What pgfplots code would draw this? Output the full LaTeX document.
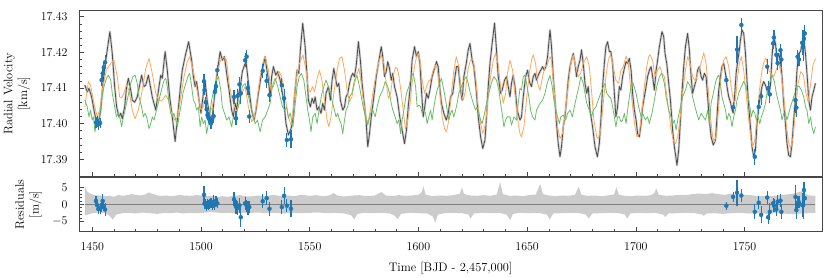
\documentclass[border=0pt]{standalone}
\usepackage{pgfplots}
\usepackage{pgfplotstable}
\pgfplotsset{compat=1.18}
\usepgfplotslibrary{fillbetween}
\definecolor{tabblue}{HTML}{1F77B4}
\definecolor{morange}{RGB}{255,168,92}
\definecolor{mgreen}{RGB}{105,190,105}
\definecolor{mdark}{RGB}{75,75,75}
\definecolor{mband}{RGB}{212,212,212}
\definecolor{mres}{RGB}{204,204,204}
\definecolor{mzero}{RGB}{128,128,128}
\definecolor{mframe}{RGB}{70,70,70}

\pgfplotstableread{
x y
1446.6 17.4108
1447.7 17.4089
1448.5 17.4099
1449.7 17.4075
1450.8 17.4038
1451.9 17.4005
1452.8 17.4000
1453.9 17.4038
1454.9 17.4113
1455.8 17.4160
1456.9 17.4207
1458.1 17.4258
1459.2 17.4197
1460.3 17.4104
1461.2 17.4047
1462.3 17.4019
1463.1 17.4029
1463.8 17.4014
1464.9 17.4047
1465.8 17.4104
1466.6 17.4127
1467.7 17.4094
1468.4 17.4066
1469.5 17.4060
1470.7 17.4075
1472.7 17.4136
1473.8 17.4104
1474.6 17.4108
1475.8 17.4136
1477.6 17.4075
1479.2 17.4038
1480.7 17.4104
1481.5 17.4136
1482.2 17.4127
1483.5 17.4202
1484.5 17.4150
1485.6 17.4075
1486.8 17.4019
1488.1 17.3950
1489.1 17.4010
1490.4 17.4094
1491.4 17.4150
1492.7 17.4188
1494.3 17.4230
1495.7 17.4178
1496.5 17.4132
1497.3 17.4104
1498.0 17.4118
1499.1 17.4066
1500.0 17.4029
1501.1 17.4085
1501.9 17.4118
1502.9 17.4061
1504.2 17.4019
1504.9 17.4005
1506.2 17.4075
1507.2 17.4132
1508.8 17.4202
1509.8 17.4178
1510.8 17.4188
1511.8 17.4141
1512.9 17.4094
1514.1 17.4038
1514.9 17.4019
1515.7 17.4057
1516.4 17.4038
1517.2 17.4080
1518.3 17.4113
1519.0 17.4146
1520.0 17.4164
1520.7 17.4174
1521.5 17.4132
1522.3 17.4085
1523.3 17.4038
1524.4 17.4010
1525.3 17.4038
1526.4 17.4085
1527.6 17.4132
1528.7 17.4164
1529.5 17.4188
1530.2 17.4155
1531.0 17.4122
1531.8 17.4075
1532.5 17.4132
1533.3 17.4160
1534.4 17.4136
1535.3 17.4146
1536.4 17.4122
1537.1 17.4099
1538.2 17.4057
1539.1 17.4000
1540.2 17.3968
1541.4 17.3985
1542.2 17.4010
1543.0 17.4075
1544.2 17.4150
1545.0 17.4141
1545.7 17.4207
1546.8 17.4282
1547.9 17.4216
1548.8 17.4132
1549.4 17.4066
1550.3 17.4047
1551.1 17.4071
1551.9 17.4057
1552.5 17.4075
1553.4 17.4038
1554.2 17.4047
1555.2 17.4029
1556.0 17.4057
1556.8 17.4038
1557.5 17.4085
1558.6 17.4104
1559.5 17.4066
1560.3 17.4122
1561.1 17.4155
1561.7 17.4132
1562.6 17.4104
1563.4 17.4113
1564.1 17.4066
1565.2 17.4038
1566.0 17.4047
1566.7 17.4075
1567.5 17.4085
1568.3 17.4113
1569.1 17.4132
1569.8 17.4141
1570.6 17.4132
1571.4 17.4164
1572.4 17.4230
1573.3 17.4178
1574.1 17.4113
1574.9 17.4066
1575.9 17.4010
1576.7 17.3935
1577.5 17.3972
1578.3 17.4019
1579.5 17.4075
1580.6 17.4132
1581.6 17.4169
1582.9 17.4216
1583.6 17.4188
1584.4 17.4132
1585.2 17.4146
1585.9 17.4174
1586.7 17.4155
1587.5 17.4122
1588.2 17.4141
1589.0 17.4104
1590.2 17.4075
1591.4 17.4019
1592.5 17.3982
1593.6 17.3944
1594.5 17.3982
1595.3 17.4047
1596.4 17.4113
1597.1 17.4178
1598.2 17.4216
1599.1 17.4188
1599.9 17.4202
1600.7 17.4169
1601.4 17.4094
1602.2 17.4019
1602.9 17.4047
1603.7 17.4085
1604.5 17.4071
1605.3 17.4094
1606.3 17.4132
1607.4 17.4155
1608.3 17.4174
1609.1 17.4160
1609.9 17.4094
1610.6 17.4057
1611.7 17.4029
1612.8 17.4010
1613.7 17.4029
1614.8 17.4075
1615.8 17.4085
1616.6 17.4122
1617.5 17.4160
1618.3 17.4160
1619.4 17.4094
1620.1 17.4066
1620.9 17.4132
1622.0 17.4169
1622.9 17.4207
1623.7 17.4225
1624.7 17.4178
1625.5 17.4160
1626.6 17.4094
1627.5 17.4019
1628.6 17.3963
1629.6 17.3930
1630.6 17.3954
1631.3 17.4019
1632.1 17.4104
1632.9 17.4169
1633.9 17.4225
1635.0 17.4282
1635.9 17.4207
1636.7 17.4132
1637.8 17.4085
1638.5 17.4094
1639.6 17.4122
1640.5 17.4132
1641.3 17.4104
1642.1 17.4075
1642.8 17.4113
1643.6 17.4136
1644.4 17.4104
1645.4 17.4038
1646.7 17.4010
1647.4 17.4019
1648.2 17.4075
1649.3 17.4132
1650.2 17.4150
1651.0 17.4118
1652.0 17.4104
1652.8 17.4132
1653.6 17.4141
1654.3 17.4122
1655.1 17.4136
1655.9 17.4146
1657.1 17.4160
1657.9 17.4150
1658.6 17.4160
1659.4 17.4188
1660.5 17.4263
1661.2 17.4216
1662.0 17.4132
1662.8 17.4066
1663.5 17.4000
1664.3 17.3944
1665.1 17.3907
1665.8 17.3935
1666.6 17.3991
1667.4 17.4019
1668.1 17.4066
1668.9 17.4122
1669.7 17.4160
1670.4 17.4178
1671.2 17.4197
1672.0 17.4169
1672.7 17.4132
1673.5 17.4160
1674.3 17.4178
1675.0 17.4207
1675.8 17.4169
1676.6 17.4113
1677.4 17.4085
1678.1 17.4104
1678.9 17.4038
1680.1 17.3991
1681.2 17.3935
1682.3 17.3907
1683.2 17.3944
1684.0 17.4019
1684.7 17.4104
1685.5 17.4169
1686.2 17.4216
1687.0 17.4230
1687.8 17.4202
1688.5 17.4202
1689.3 17.4169
1690.1 17.4085
1690.8 17.4019
1691.6 17.4047
1692.4 17.4104
1693.1 17.4094
1693.9 17.4132
1694.7 17.4155
1695.5 17.4174
1696.2 17.4169
1697.0 17.4183
1697.8 17.4150
1698.5 17.4085
1699.3 17.4038
1700.1 17.4010
1700.8 17.3972
1701.6 17.3963
1702.4 17.4000
1703.1 17.4047
1703.9 17.4075
1704.7 17.4104
1705.4 17.4132
1706.2 17.4150
1707.0 17.4160
1707.7 17.4132
1708.5 17.4094
1709.3 17.4150
1710.0 17.4178
1710.8 17.4216
1711.6 17.4244
1712.0 17.4258
1712.8 17.4244
1713.4 17.4197
1714.2 17.4169
1715.1 17.4113
1715.9 17.4066
1716.9 17.3982
1717.7 17.3935
1718.5 17.3902
1718.9 17.3883
1719.7 17.3926
1720.5 17.4010
1721.2 17.4085
1722.0 17.4160
1722.8 17.4216
1723.8 17.4253
1724.6 17.4207
1725.4 17.4132
1726.1 17.4085
1726.9 17.4104
1727.7 17.4122
1728.4 17.4150
1729.2 17.4160
1730.0 17.4132
1730.7 17.4122
1731.5 17.4141
1732.3 17.4132
1733.0 17.4075
1733.8 17.4010
1734.6 17.3963
1735.6 17.3940
1736.6 17.3954
1737.3 17.4019
1738.1 17.4094
1738.9 17.4132
1739.6 17.4160
1740.4 17.4169
1741.2 17.4141
1741.9 17.4104
1742.7 17.4075
1743.5 17.4060
1744.2 17.4040
1744.7 17.4030
1745.5 17.4085
1746.1 17.4141
1746.8 17.4174
1747.6 17.4207
1748.1 17.4235
1748.8 17.4263
1749.6 17.4253
1750.4 17.4197
1751.1 17.4122
1751.9 17.4047
1752.7 17.3991
1753.4 17.3935
1754.2 17.3907
1755.0 17.3926
1755.7 17.4000
1756.5 17.4047
1757.3 17.4080
1758.0 17.4104
1758.8 17.4118
1759.6 17.4108
1760.3 17.4094
1761.1 17.4080
1761.9 17.4108
1762.6 17.4188
1763.4 17.4244
1764.2 17.4225
1764.9 17.4178
1765.7 17.4197
1766.5 17.4174
1767.2 17.4132
1768.0 17.4057
1768.8 17.4000
1769.5 17.3944
1770.3 17.3911
1771.1 17.3907
1771.8 17.3944
1772.6 17.4010
1773.4 17.4075
1774.1 17.4150
1774.9 17.4197
1775.7 17.4202
1776.5 17.4225
1777.2 17.4235
1778.0 17.4197
1778.8 17.4132
1779.5 17.4066
1780.3 17.4038
1781.0 17.4075
1781.8 17.4094
1782.6 17.4113
}\blackdata

\pgfplotstableread{
x y
1446.6 17.4047
1448.2 17.4118
1449.2 17.4108
1450.8 17.4057
1452.3 17.4019
1453.4 17.4038
1454.9 17.4104
1456.5 17.4150
1458.5 17.4169
1460.0 17.4178
1461.5 17.4132
1462.6 17.4075
1463.5 17.4073
1464.6 17.4085
1465.7 17.4108
1466.9 17.4094
1468.4 17.4038
1469.7 17.4014
1471.2 17.4038
1473.0 17.4094
1474.6 17.4155
1476.1 17.4183
1477.6 17.4141
1479.2 17.4085
1480.7 17.4064
1482.2 17.4066
1483.8 17.4080
1485.0 17.4066
1486.5 17.4029
1487.9 17.4010
1489.3 17.4019
1490.7 17.4075
1492.2 17.4132
1493.7 17.4174
1494.8 17.4188
1495.8 17.4165
1496.5 17.4146
1497.6 17.4113
1498.8 17.4075
1500.0 17.4038
1501.1 17.4047
1501.9 17.4071
1503.1 17.4038
1504.2 17.4033
1505.2 17.4047
1506.5 17.4094
1507.5 17.4141
1508.8 17.4174
1510.3 17.4188
1511.8 17.4178
1512.9 17.4113
1514.1 17.4075
1515.4 17.4047
1516.4 17.4033
1517.5 17.4057
1518.7 17.4085
1520.3 17.4104
1521.8 17.4047
1523.3 17.4005
1524.6 17.4019
1525.6 17.4057
1527.2 17.4132
1528.7 17.4178
1529.5 17.4188
1531.0 17.4150
1532.2 17.4094
1533.3 17.4104
1534.4 17.4122
1535.9 17.4146
1537.1 17.4132
1538.7 17.4075
1540.2 17.4019
1541.4 17.3996
1542.3 17.4030
1543.3 17.4100
1544.2 17.4141
1545.3 17.4169
1546.9 17.4193
1548.3 17.4150
1549.4 17.4094
1550.3 17.4089
1551.3 17.4104
1552.2 17.4089
1553.4 17.4127
1554.5 17.4150
1555.6 17.4122
1556.8 17.4066
1558.0 17.4010
1558.8 17.3991
1559.8 17.4019
1561.1 17.4085
1562.6 17.4150
1563.7 17.4183
1564.8 17.4188
1566.0 17.4150
1567.2 17.4094
1568.3 17.4061
1569.4 17.4075
1570.3 17.4104
1571.4 17.4132
1572.6 17.4155
1573.7 17.4113
1574.9 17.4057
1575.9 17.4019
1576.7 17.4000
1577.9 17.4038
1579.0 17.4085
1580.6 17.4141
1581.6 17.4169
1582.9 17.4193
1584.1 17.4169
1585.2 17.4113
1586.2 17.4071
1587.2 17.4085
1588.2 17.4132
1589.5 17.4158
1590.3 17.4155
1591.1 17.4130
1592.1 17.4085
1593.0 17.4038
1594.0 17.3985
1594.8 17.4000
1596.0 17.4047
1597.1 17.4113
1598.2 17.4160
1599.1 17.4188
1599.9 17.4197
1600.7 17.4178
1601.7 17.4122
1602.8 17.4085
1603.7 17.4104
1604.8 17.4120
1605.6 17.4122
1606.8 17.4150
1607.9 17.4164
1608.6 17.4155
1609.9 17.4085
1610.9 17.4019
1612.0 17.3986
1612.9 17.3977
1614.0 17.4010
1615.1 17.4085
1616.3 17.4150
1617.4 17.4188
1618.6 17.4160
1619.7 17.4085
1620.6 17.4066
1621.7 17.4094
1622.7 17.4150
1623.9 17.4178
1625.2 17.4178
1626.3 17.4132
1627.3 17.4057
1628.6 17.4000
1629.6 17.3972
1630.9 17.4000
1631.9 17.4066
1633.2 17.4132
1634.4 17.4178
1635.5 17.4197
1636.6 17.4169
1637.8 17.4104
1639.0 17.4057
1640.1 17.4085
1640.9 17.4140
1642.1 17.4178
1643.3 17.4150
1644.4 17.4085
1645.4 17.4019
1646.7 17.3972
1647.4 17.3963
1648.5 17.3991
1649.7 17.4066
1651.0 17.4141
1652.0 17.4178
1652.8 17.4193
1653.9 17.4169
1654.8 17.4113
1655.9 17.4094
1657.1 17.4132
1658.2 17.4160
1659.2 17.4164
1660.5 17.4188
1661.2 17.4178
1662.0 17.4122
1663.1 17.4047
1664.0 17.3991
1665.1 17.3958
1666.2 17.3972
1667.1 17.4010
1668.1 17.4066
1669.2 17.4122
1670.1 17.4169
1671.2 17.4193
1672.3 17.4160
1673.5 17.4132
1674.6 17.4141
1675.8 17.4169
1677.4 17.4188
1678.6 17.4160
1679.7 17.4085
1680.7 17.4010
1682.0 17.3963
1682.7 17.3958
1683.8 17.3982
1685.0 17.4057
1686.2 17.4132
1687.3 17.4178
1688.4 17.4195
1689.6 17.4160
1690.8 17.4122
1692.1 17.4113
1693.1 17.4150
1694.2 17.4160
1695.5 17.4190
1696.5 17.4169
1697.4 17.4113
1698.5 17.4047
1699.6 17.3991
1700.5 17.3963
1701.6 17.3972
1702.7 17.4029
1703.9 17.4104
1705.0 17.4160
1705.9 17.4188
1706.6 17.4193
1707.7 17.4178
1708.8 17.4132
1710.0 17.4150
1711.1 17.4160
1712.0 17.4141
1713.1 17.4132
1713.9 17.4094
1715.1 17.4038
1716.2 17.3982
1717.2 17.3954
1718.2 17.3944
1719.2 17.3963
1720.3 17.4010
1721.5 17.4085
1722.8 17.4150
1723.8 17.4188
1724.9 17.4169
1726.1 17.4132
1727.4 17.4118
1728.4 17.4141
1730.0 17.4169
1731.2 17.4199
1732.3 17.4169
1733.3 17.4094
1734.3 17.4019
1735.3 17.3963
1736.1 17.3949
1737.2 17.3972
1738.1 17.4050
1739.3 17.4141
1740.4 17.4178
1741.5 17.4188
1742.7 17.4160
1743.8 17.4104
1745.0 17.4057
1745.8 17.4066
1746.8 17.4132
1747.6 17.4169
1748.5 17.4188
1749.6 17.4150
1750.7 17.4085
1751.9 17.4010
1753.0 17.3954
1753.7 17.3935
1754.7 17.3954
1755.7 17.4019
1756.8 17.4094
1758.0 17.4150
1759.1 17.4178
1759.9 17.4183
1761.1 17.4150
1762.2 17.4141
1763.4 17.4132
1764.5 17.4150
1765.7 17.4169
1766.8 17.4141
1768.0 17.4075
1769.1 17.4000
1770.3 17.3944
1771.2 17.3930
1772.3 17.3963
1773.4 17.4038
1774.6 17.4113
1775.8 17.4146
1777.1 17.4136
1778.1 17.4089
1779.2 17.4061
1780.3 17.4108
1781.4 17.4164
1782.6 17.4183
}\orangedata

\pgfplotstableread{
x y
1446.6 17.4066
1447.7 17.4047
1448.5 17.4019
1449.2 17.4038
1450.0 17.4010
1450.6 17.4019
1451.2 17.3977
1452.3 17.4010
1453.4 17.4019
1454.3 17.4066
1455.4 17.4104
1456.5 17.4127
1457.4 17.4136
1458.5 17.4122
1459.2 17.4085
1460.3 17.4047
1461.1 17.4019
1461.8 17.4029
1462.6 17.4019
1463.5 17.3991
1464.3 17.4019
1465.4 17.4047
1466.4 17.4075
1467.7 17.4113
1468.7 17.4132
1469.7 17.4136
1470.7 17.4113
1471.5 17.4075
1472.7 17.4047
1473.5 17.4019
1474.3 17.4029
1475.0 17.4019
1476.1 17.3986
1476.9 17.4000
1477.6 17.4019
1478.4 17.4010
1479.2 17.4029
1479.9 17.4047
1480.7 17.4066
1481.8 17.4094
1483.0 17.4122
1483.8 17.4127
1484.5 17.4104
1485.3 17.4057
1486.1 17.4029
1486.8 17.4019
1487.6 17.4029
1488.4 17.4010
1489.1 17.3991
1489.9 17.4019
1490.7 17.4047
1491.7 17.4085
1493.0 17.4113
1494.0 17.4132
1494.8 17.4141
1495.7 17.4104
1496.5 17.4066
1497.3 17.4057
1498.0 17.4038
1498.8 17.4047
1499.6 17.3991
1500.3 17.4019
1501.1 17.4000
1501.9 17.4010
1502.6 17.3972
1503.7 17.4010
1504.9 17.4066
1506.5 17.4113
1508.0 17.4132
1509.1 17.4094
1509.8 17.4047
1510.8 17.4029
1511.8 17.4010
1512.9 17.4019
1514.1 17.3991
1514.9 17.4019
1515.7 17.4010
1516.7 17.4038
1518.0 17.4066
1519.0 17.4104
1520.3 17.4113
1521.5 17.4085
1522.6 17.4057
1523.3 17.4038
1524.1 17.4019
1524.9 17.4000
1526.0 17.4010
1527.2 17.3977
1528.3 17.4010
1529.5 17.4019
1530.7 17.4038
1531.8 17.4057
1532.8 17.4104
1534.1 17.4127
1535.3 17.4104
1536.4 17.4075
1537.5 17.4047
1538.7 17.4038
1539.4 17.4047
1540.2 17.4015
1541.0 17.4030
1542.3 17.3991
1543.2 17.4047
1544.2 17.4104
1545.2 17.4132
1546.2 17.4141
1547.3 17.4122
1548.3 17.4075
1549.1 17.4038
1549.9 17.4010
1550.6 17.3977
1551.4 17.4019
1552.5 17.4029
1553.4 17.4000
1554.5 17.4047
1555.6 17.4085
1556.5 17.4104
1557.5 17.4122
1558.6 17.4104
1559.5 17.4085
1560.6 17.4057
1561.4 17.4038
1562.1 17.4019
1562.9 17.4029
1563.7 17.4010
1564.4 17.4000
1565.2 17.3972
1566.0 17.4010
1566.7 17.4038
1567.5 17.4047
1568.3 17.4075
1569.4 17.4085
1570.6 17.4122
1571.7 17.4136
1572.9 17.4104
1574.0 17.4066
1574.9 17.4038
1576.0 17.4010
1576.7 17.3996
1578.0 17.4029
1579.0 17.4038
1580.1 17.4019
1581.0 17.4047
1582.1 17.4075
1583.6 17.4094
1584.7 17.4118
1585.9 17.4104
1586.7 17.4085
1587.5 17.4057
1588.2 17.4038
1589.3 17.4019
1590.2 17.4000
1591.0 17.4010
1591.8 17.3972
1592.5 17.4010
1593.3 17.4038
1594.5 17.4085
1595.6 17.4104
1596.7 17.4132
1597.6 17.4141
1598.7 17.4104
1599.4 17.4047
1600.2 17.4052
1601.0 17.4047
1601.7 17.4029
1602.5 17.4038
1603.3 17.4029
1604.0 17.4000
1604.8 17.4019
1605.6 17.4038
1606.3 17.4010
1607.1 17.4047
1607.9 17.4075
1608.6 17.4094
1609.7 17.4113
1610.6 17.4127
1611.7 17.4094
1612.5 17.4066
1613.2 17.4038
1614.0 17.4010
1614.8 17.4029
1615.5 17.4038
1616.3 17.4019
1617.1 17.4038
1617.8 17.4057
1618.6 17.4085
1619.7 17.4104
1620.9 17.4122
1622.0 17.4132
1622.9 17.4113
1623.9 17.4085
1625.2 17.4057
1626.3 17.4038
1627.0 17.4047
1627.8 17.4029
1628.6 17.4010
1629.3 17.4000
1630.4 17.4029
1631.3 17.4057
1632.4 17.4085
1633.5 17.4113
1634.7 17.4132
1635.9 17.4122
1637.0 17.4094
1637.8 17.4057
1638.5 17.4029
1639.3 17.3991
1640.1 17.4010
1640.8 17.4019
1642.1 17.4019
1642.8 17.3996
1643.9 17.4019
1645.1 17.4010
1645.9 17.4057
1646.7 17.4099
1647.4 17.4094
1648.2 17.4132
1649.0 17.4136
1650.0 17.4104
1651.0 17.4066
1651.6 17.4038
1652.5 17.4019
1653.6 17.4010
1654.3 17.4038
1655.1 17.4047
1655.9 17.4057
1657.1 17.4066
1658.2 17.4085
1659.2 17.4113
1660.5 17.4136
1661.5 17.4104
1662.3 17.4066
1663.2 17.4038
1664.0 17.4019
1664.8 17.4000
1665.5 17.4019
1666.6 17.4024
1667.7 17.4010
1668.6 17.4029
1669.7 17.4038
1670.8 17.4019
1671.7 17.4047
1672.7 17.4075
1673.8 17.4104
1674.7 17.4132
1675.8 17.4113
1676.6 17.4085
1677.4 17.4057
1678.6 17.4038
1679.7 17.4019
1680.4 17.4038
1681.6 17.4047
1682.7 17.4066
1683.8 17.4085
1685.0 17.4104
1685.8 17.4113
1686.6 17.4085
1687.8 17.4075
1688.5 17.4071
1689.3 17.4047
1690.1 17.4019
1690.8 17.3991
1691.6 17.4019
1692.4 17.4019
1693.1 17.4005
1693.9 17.4010
1694.7 17.4029
1695.5 17.4000
1696.2 17.4038
1697.0 17.4075
1697.8 17.4104
1698.8 17.4113
1700.1 17.4085
1701.3 17.4047
1702.4 17.4019
1703.1 17.4029
1704.4 17.4010
1705.4 17.4019
1706.2 17.4000
1707.4 17.4029
1708.5 17.4066
1709.6 17.4104
1710.8 17.4132
1711.9 17.4141
1713.1 17.4113
1713.9 17.4075
1715.1 17.4038
1716.2 17.4019
1717.0 17.4000
1717.7 17.4010
1718.5 17.3982
1719.5 17.4019
1720.5 17.4047
1721.5 17.4075
1722.8 17.4094
1723.8 17.4118
1725.1 17.4104
1726.1 17.4075
1727.2 17.4047
1728.0 17.4029
1728.9 17.4010
1730.0 17.4029
1731.0 17.4019
1732.0 17.4010
1733.0 17.4038
1733.8 17.4000
1734.6 17.4057
1735.6 17.4085
1736.9 17.4122
1737.6 17.4132
1738.1 17.4136
1738.9 17.4113
1739.6 17.4075
1740.4 17.4057
1741.2 17.4038
1741.9 17.4010
1742.7 17.4029
1743.5 17.4019
1744.2 17.3991
1745.0 17.4019
1745.8 17.4038
1746.5 17.4066
1747.3 17.4085
1748.5 17.4104
1749.6 17.4118
1750.7 17.4104
1751.6 17.4075
1752.4 17.4047
1753.1 17.4019
1753.9 17.4038
1754.7 17.4029
1755.4 17.4010
1756.2 17.4019
1757.0 17.4000
1757.7 17.4019
1758.8 17.4038
1759.6 17.4057
1760.3 17.4085
1761.1 17.4104
1761.9 17.4122
1762.6 17.4136
1763.7 17.4118
1764.6 17.4085
1765.7 17.4057
1766.5 17.4038
1767.2 17.4010
1768.0 17.4029
1768.8 17.4029
1769.5 17.4010
1770.3 17.4029
1771.1 17.4047
1772.1 17.4066
1773.1 17.4085
1774.1 17.4104
1775.2 17.4104
1776.1 17.4094
1777.2 17.4075
1778.0 17.4047
1778.7 17.4038
1779.5 17.4000
1780.3 17.4019
1781.0 17.3991
1781.8 17.3972
1782.6 17.3991
}\greendata

\pgfplotstableread{
x y e
1451.7 17.4003 0.0015
1452.3 17.4006 0.0015
1452.8 17.3998 0.0015
1453.6 17.4002 0.0015
1454.3 17.4122 0.0015
1454.8 17.4141 0.0020
1455.3 17.4158 0.0015
1455.9 17.4172 0.0020
1501.4 17.4119 0.0020
1501.6 17.4094 0.0015
1502.2 17.4060 0.0015
1502.6 17.4040 0.0015
1503.0 17.4024 0.0015
1503.4 17.4017 0.0015
1504.0 17.4010 0.0015
1504.6 17.4000 0.0015
1505.2 17.4014 0.0015
1505.8 17.4021 0.0018
1506.4 17.4089 0.0015
1506.9 17.4105 0.0015
1507.5 17.4150 0.0015
1515.2 17.4075 0.0020
1516.1 17.4015 0.0020
1516.9 17.4078 0.0020
1517.7 17.4110 0.0022
1518.3 17.4085 0.0030
1520.3 17.4178 0.0020
1521.0 17.4188 0.0018
1521.6 17.4100 0.0020
1522.2 17.4020 0.0018
1528.4 17.4148 0.0020
1530.2 17.4120 0.0020
1531.5 17.4080 0.0020
1537.2 17.4108 0.0020
1538.2 17.4071 0.0025
1539.5 17.3954 0.0020
1541.4 17.3956 0.0025
1741.6 17.4122 0.0012
1744.7 17.4046 0.0015
1746.5 17.4208 0.0039
1748.5 17.4277 0.0020
1754.7 17.3907 0.0022
1756.5 17.4047 0.0020
1757.6 17.4077 0.0025
1760.4 17.4160 0.0020
1760.8 17.4099 0.0020
1761.6 17.4082 0.0025
1763.1 17.4225 0.0015
1763.5 17.4242 0.0020
1764.6 17.4193 0.0020
1765.2 17.4170 0.0020
1766.5 17.4206 0.0018
1766.9 17.4180 0.0022
1773.4 17.4066 0.0035
1773.8 17.4045 0.0025
1774.4 17.4188 0.0020
1775.0 17.4180 0.0018
1776.5 17.4227 0.0035
1776.9 17.4215 0.0040
1777.3 17.4238 0.0025
1777.7 17.4253 0.0025
}\obsdata

\pgfplotstableread{
x y e
1451.7 1.0 1.5
1452.3 -0.3 1.5
1452.8 -1.4 1.5
1453.6 -1.2 1.5
1454.3 -0.8 1.5
1454.8 1.0 2.0
1455.3 -0.5 1.5
1455.9 -1.5 2.0
1501.4 2.8 2.5
1501.6 0.2 1.5
1502.2 0.1 1.5
1502.6 -0.5 1.5
1503.0 0.0 1.5
1503.4 -0.3 1.5
1504.0 0.2 1.5
1504.6 0.4 1.5
1505.2 -0.3 1.5
1505.8 0.8 1.8
1506.4 -0.2 1.5
1506.9 1.0 1.5
1507.5 0.3 1.5
1515.2 1.5 2.0
1516.1 -0.7 2.0
1516.9 -1.0 2.0
1517.7 -0.3 2.2
1518.3 -3.8 3.0
1520.3 0.3 2.0
1521.0 -0.4 1.8
1521.6 -1.0 2.0
1522.2 -0.8 1.8
1528.4 0.9 2.0
1530.2 1.8 2.0
1531.5 -1.3 2.0
1537.2 -0.8 2.0
1538.2 2.5 2.5
1539.5 -0.4 2.0
1541.4 -1.3 2.5
1741.6 -0.4 1.2
1744.7 2.2 1.5
1746.5 3.4 3.9
1748.5 2.6 2.0
1754.7 -2.2 2.2
1756.5 0.5 2.0
1757.6 -3.1 2.5
1760.4 2.0 2.0
1760.8 -3.8 2.0
1761.6 -2.2 2.5
1763.1 0.3 1.5
1763.5 -0.4 2.0
1764.6 -1.5 2.0
1765.2 0.8 2.0
1766.5 1.1 1.8
1766.9 -2.2 2.2
1773.4 2.2 3.5
1773.8 -1.7 2.5
1774.4 0.5 2.0
1775.0 0.6 1.8
1776.5 -0.2 3.5
1776.9 -0.3 4.0
1777.3 4.2 2.5
1777.7 1.8 2.5
}\resdata

\pgfplotstableread{
x y
1446.6 5.5
1447.5 3.8
1449 3.2
1451 2.7
1453 2.6
1456 2.4
1458 2.5
1460 2.2
1462 2.8
1464 2.5
1466 2.7
1468 3.0
1470 2.8
1472 2.6
1474 2.8
1476 3.5
1478 3.0
1480 2.6
1482 2.5
1484 2.6
1486 2.4
1488 2.5
1490 2.8
1492 2.6
1495 2.5
1498 2.7
1500 2.6
1503 2.4
1506 2.5
1508 2.2
1510 2.4
1512 2.2
1515 2.5
1518 2.7
1520 2.4
1523 2.3
1526 2.6
1530 2.4
1533 2.8
1536 2.5
1540 2.6
1543 2.4
1546 2.8
1550 2.5
1553 2.7
1556 2.4
1559 2.6
1561 3.3
1563 2.5
1566 2.3
1570 2.6
1573 2.7
1576 2.4
1580 2.6
1583 3.6
1585 2.6
1588 2.4
1591 2.7
1594 2.5
1597 2.6
1600 2.8
1601.5 3.6
1602.3 5.3
1603.3 2.9
1606 2.4
1610 2.6
1613 2.5
1616 2.7
1619 3.1
1620 5.0
1621 3.0
1624 2.6
1627 2.5
1630 2.7
1633 2.5
1636 2.9
1637.6 6.6
1638.8 3.0
1642 2.5
1645 2.6
1648 2.4
1651 2.7
1654 2.9
1656 6.0
1657.3 3.0
1660 2.6
1663 2.4
1666 2.6
1669 2.5
1672 2.8
1673.7 5.2
1675 2.8
1678 2.5
1681 2.6
1684 2.4
1687 2.6
1690 2.9
1691 5.0
1692.2 2.8
1695 2.5
1698 2.4
1701 2.6
1704 2.5
1707 2.7
1708.5 3.3
1709.4 4.7
1710.5 2.8
1714 2.5
1717 2.6
1720 2.8
1723 2.7
1726 3.0
1729 3.2
1732 3.0
1735 3.3
1738 3.0
1741 2.8
1744 3.2
1747 2.6
1750 2.8
1753 2.7
1756 2.4
1759 2.5
1762 2.4
1765 2.6
1768 2.8
1771 3.0
1774 3.4
1776 3.8
1778 3.0
1780 2.6
1782.6 2.5
}\bandup

\pgfplotstableread{
x y
1446.6 -3.2
1448 -3.0
1450 -2.6
1453 -2.4
1456 -2.6
1458 -3.4
1459.5 -4.5
1461 -3.0
1464 -2.6
1467 -2.5
1470 -2.7
1473 -2.4
1476 -2.6
1480 -2.8
1483 -2.5
1486 -2.6
1489 -2.4
1492 -2.7
1495 -2.5
1498 -2.6
1501 -2.5
1504 -2.3
1507 -2.4
1510 -2.6
1513 -2.5
1516 -2.7
1519 -2.5
1522 -2.6
1526 -2.4
1530 -2.6
1534 -2.5
1538 -2.7
1542 -2.5
1546 -2.6
1550 -2.5
1554 -2.4
1558 -2.6
1562 -2.5
1566 -2.7
1569 -3.2
1570.5 -4.4
1572 -2.8
1575 -2.5
1579 -2.6
1583 -2.5
1587 -2.7
1589 -3.3
1590.5 -4.4
1592 -2.8
1596 -2.5
1600 -2.6
1604 -2.7
1606.5 -3.5
1607.7 -5.4
1609 -3.0
1612 -2.6
1616 -2.5
1620 -2.6
1623 -3.0
1624 -4.2
1625.5 -2.7
1629 -2.5
1633 -2.6
1637 -2.5
1640.5 -3.0
1642.2 -4.6
1643.5 -2.8
1647 -2.5
1651 -2.6
1655 -2.5
1659 -3.0
1660.4 -4.4
1662 -2.7
1666 -2.6
1670 -2.5
1674 -2.6
1677 -3.0
1678.3 -4.2
1680 -2.7
1684 -2.6
1688 -2.5
1692 -2.6
1695 -3.0
1696 -4.2
1697.5 -2.7
1701 -2.5
1705 -2.6
1709 -2.5
1712.5 -3.0
1713.5 -3.7
1715 -2.7
1719 -2.6
1723 -2.5
1727 -2.6
1730.5 -3.0
1731.2 -3.4
1732.5 -2.7
1736 -2.6
1740 -2.8
1744 -2.6
1748 -2.5
1752 -2.7
1756 -2.6
1760 -2.8
1764 -2.6
1768 -2.7
1772 -2.9
1776 -2.7
1780 -2.6
1782.6 -2.5
}\bandlo

\pgfplotsset{
  myaxis/.style={
    scale only axis, width=743bp,
    xmin=1443.9, xmax=1785.6,
    axis line style={mframe, line width=0.8bp},
    tick style={mframe, line width=0.6bp},
    tick align=inside,
    major tick length=4.5bp, minor tick length=2.5bp,
    tick pos=left,
    xtick={1450,1500,...,1750}, minor x tick num=4,
    tick label style={font=\fontsize{12.4}{14}\selectfont},
    label style={font=\fontsize{12.4}{15}\selectfont},
    xticklabel style={yshift=-8bp, /pgf/number format/1000 sep={}},
    yticklabel style={xshift=-8bp},
    scaled ticks=false,
  }
}

\begin{document}
\begin{tikzpicture}
\begin{axis}[myaxis, at={(79bp,100.3bp)}, anchor=south west, height=166bp,
  ymin=17.38511, ymax=17.43169,
  ytick={17.39,17.40,17.41,17.42,17.43}, minor y tick num=4,
  xticklabels={},
  yticklabel style={/pgf/number format/fixed, /pgf/number format/fixed zerofill, /pgf/number format/precision=2},
  ylabel={Radial Velocity\\{[km/s]}},
  ylabel style={align=center, at={(axis description cs:-0.0834,0.5)}, anchor=center},
]
\addplot[mband, line width=2.4bp, line join=round, no markers] table {\blackdata};
\addplot[mdark, line width=0.8bp, line join=round, no markers] table {\blackdata};
\addplot[morange, line width=0.8bp, line join=round, no markers] table {\orangedata};
\addplot[mgreen, line width=0.8bp, line join=round, no markers] table {\greendata};
\addplot[tabblue, only marks, mark=*, mark size=2bp,
  error bars/.cd, y dir=both, y explicit,
  error bar style={line width=1.1bp, tabblue}, error mark=none]
  table[x=x, y=y, y error=e] {\obsdata};
\end{axis}
\begin{axis}[myaxis, at={(79bp,45.3bp)}, anchor=south west, height=54.4bp,
  ymin=-8.05, ymax=7.95,
  ytick={-5,0,5}, minor y tick num=4,
  xlabel={Time [BJD - 2,457,000]},
  xlabel style={at={(axis description cs:0.5,0)}, anchor=base, yshift=-39.3bp},
  ylabel={Residuals\\{[m/s]}},
  ylabel style={align=center, at={(axis description cs:-0.068,0.5)}, anchor=center},
]
\addplot[name path=up, draw=none, no markers, forget plot] table {\bandup};
\addplot[name path=lo, draw=none, no markers, forget plot] table {\bandlo};
\addplot[mres, draw=none] fill between[of=up and lo];
\addplot[mzero, line width=1.3bp, no markers] coordinates {(1446.6,0) (1782.6,0)};
\addplot[tabblue, only marks, mark=*, mark size=2bp,
  error bars/.cd, y dir=both, y explicit,
  error bar style={line width=1.1bp, tabblue}, error mark=none]
  table[x=x, y=y, y error=e] {\resdata};
\end{axis}
\path (0,0) rectangle (830bp,277bp);
\end{tikzpicture}
\end{document}
